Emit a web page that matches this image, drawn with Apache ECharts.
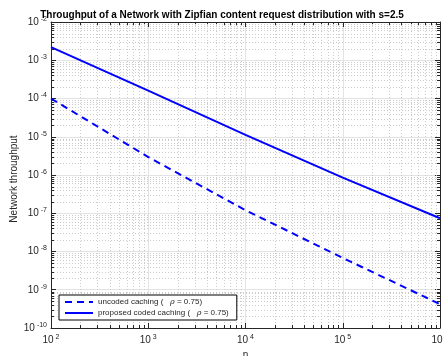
<!DOCTYPE html>
<html>
<head>
<meta charset="utf-8">
<script src="https://cdn.jsdelivr.net/npm/echarts@6/dist/echarts.min.js"></script>
<style>
  html, body { margin: 0; padding: 0; background: #fff; }
  #chart { width: 444px; height: 356px; }
</style>
</head>
<body>
<div id="chart"></div>
<script>
// values (log-log)
const nValues = [100, 1000, 10000, 100000, 1000000];
const uncodedThroughput = [1.0e-4, 2.95e-6, 1.2e-7, 6.8e-9, 4.2e-10];
const codedThroughput = [2.2e-3, 1.6e-4, 1.12e-5, 8.5e-7, 7.4e-8];

// minor grid positions (2..9 within each decade)
const minorMultiples = [2, 3, 4, 5, 6, 7, 8, 9];
const xDecades = [1e2, 1e3, 1e4, 1e5];
const yDecades = [1e-10, 1e-9, 1e-8, 1e-7, 1e-6, 1e-5, 1e-4, 1e-3];

const xMinor = [];
xDecades.forEach(d => minorMultiples.forEach(m => xMinor.push([d * m, 1e-6])));
const yMinor = [];
yDecades.forEach(d => minorMultiples.forEach(m => yMinor.push([1000, d * m])));

const axisColor = '#262626';
const fontFam = '"Liberation Sans", Arial, sans-serif';

const powLabel = v => {
    const e = Math.round(Math.log10(v));
    return '{b|10}{s|' + e + '}';
};
const labelRich = {
    b: { fontSize: 10, color: axisColor, fontFamily: fontFam },
    s: { fontSize: 7, color: axisColor, fontFamily: fontFam, verticalAlign: 'top', padding: [0, 0, 6, 2] }
};

const chart = echarts.init(document.getElementById('chart'));

function minorRender(isX) {
    return function (params, api) {
        const cs = params.coordSys;
        const p = api.coord([api.value(0), api.value(1)]);
        const dotted = { stroke: '#cccccc', lineWidth: 1, lineDash: [1, 2] };
        const tick = { stroke: axisColor, lineWidth: 1 };
        if (isX) {
            const x = Math.round(p[0]) + 0.5;
            return { type: 'group', children: [
                { type: 'line', shape: { x1: x, y1: cs.y, x2: x, y2: cs.y + cs.height }, style: dotted },
                { type: 'line', shape: { x1: x, y1: cs.y + cs.height, x2: x, y2: cs.y + cs.height - 3 }, style: tick },
                { type: 'line', shape: { x1: x, y1: cs.y, x2: x, y2: cs.y + 3 }, style: tick }
            ]};
        }
        const y = Math.round(p[1]) + 0.5;
        return { type: 'group', children: [
            { type: 'line', shape: { x1: cs.x, y1: y, x2: cs.x + cs.width, y2: y }, style: dotted },
            { type: 'line', shape: { x1: cs.x, y1: y, x2: cs.x + 3, y2: y }, style: tick },
            { type: 'line', shape: { x1: cs.x + cs.width, y1: y, x2: cs.x + cs.width - 3, y2: y }, style: tick }
        ]};
    };
}

const option = {
    backgroundColor: '#fff',
    animation: false,
    title: {
        text: 'Throughput of a Network with Zipfian content request distribution with s=2.5',
        left: 'center',
        top: 5,
        textStyle: { fontSize: 10, fontWeight: 'bold', color: '#000', fontFamily: fontFam }
    },
    legend: {
        orient: 'vertical',
        left: 59,
        top: 295,
        backgroundColor: '#fff',
        borderColor: '#000',
        borderWidth: 1,
        borderRadius: 0,
        padding: [3, 8, 3, 5],
        itemWidth: 28,
        itemHeight: 8,
        itemGap: 3,
        itemStyle: { color: 'transparent', borderColor: 'transparent', borderWidth: 0 },
        data: ['uncoded caching', 'proposed coded caching'],
        formatter: name => name + ' (   {i|ρ} = 0.75)',
        textStyle: {
            fontSize: 8, color: axisColor, fontFamily: fontFam,
            rich: { i: { fontSize: 8, fontStyle: 'italic', color: axisColor, fontFamily: '"DejaVu Serif", serif' } }
        }
    },
    grid: { left: 51, right: 4, top: 22, bottom: 28, containLabel: false, outerBoundsMode: 'none' },
    xAxis: [{
        type: 'log', logBase: 10, min: 1e2, max: 1e6,
        name: 'n', nameLocation: 'middle', nameGap: 19,
        nameTextStyle: { fontSize: 10, color: axisColor, fontFamily: fontFam },
        axisLine: { onZero: false, lineStyle: { color: axisColor, width: 1 } },
        axisTick: { inside: true, length: 5, lineStyle: { color: axisColor } },
        axisLabel: { margin: 6, formatter: powLabel, rich: labelRich, showMaxLabel: true },
        splitLine: { show: true, lineStyle: { color: '#e3e3e3', width: 1 } }
    }, {
        type: 'log', logBase: 10, min: 1e2, max: 1e6, position: 'top',
        axisLine: { onZero: false, lineStyle: { color: axisColor, width: 1 } },
        axisTick: { inside: true, length: 5, lineStyle: { color: axisColor } },
        axisLabel: { show: false },
        splitLine: { show: false }
    }],
    yAxis: [{
        type: 'log', logBase: 10, min: 1e-10, max: 1e-2,
        name: 'Network throughput', nameLocation: 'middle', nameGap: 32, nameMoveOverlap: false,
        nameTextStyle: { fontSize: 10, color: axisColor, fontFamily: fontFam, padding: [0, 0, 0, -8] },
        axisLine: { onZero: false, lineStyle: { color: axisColor, width: 1 } },
        axisTick: { inside: true, length: 5, lineStyle: { color: axisColor } },
        axisLabel: { margin: 4, formatter: powLabel, rich: labelRich },
        splitLine: { show: true, lineStyle: { color: '#e3e3e3', width: 1 } }
    }, {
        type: 'log', logBase: 10, min: 1e-10, max: 1e-2, position: 'right',
        axisLine: { onZero: false, lineStyle: { color: axisColor, width: 1 } },
        axisTick: { inside: true, length: 5, lineStyle: { color: axisColor } },
        axisLabel: { show: false },
        splitLine: { show: false }
    }],
    series: [
        {
            type: 'custom', xAxisIndex: 0, yAxisIndex: 0, z: 1, silent: true,
            renderItem: minorRender(true), data: xMinor, clip: false
        },
        {
            type: 'custom', xAxisIndex: 0, yAxisIndex: 0, z: 1, silent: true,
            renderItem: minorRender(false), data: yMinor, clip: false
        },
        {
            name: 'uncoded caching', type: 'line', xAxisIndex: 0, yAxisIndex: 0, z: 5,
            symbol: 'none', color: '#0000ff',
            lineStyle: { color: '#0000ff', width: 2, type: [7, 5] },
            data: nValues.map((n, i) => [n, uncodedThroughput[i]])
        },
        {
            name: 'proposed coded caching', type: 'line', xAxisIndex: 0, yAxisIndex: 0, z: 5,
            symbol: 'none', color: '#0000ff',
            lineStyle: { color: '#0000ff', width: 2, type: 'solid' },
            data: nValues.map((n, i) => [n, codedThroughput[i]])
        }
    ]
};

chart.setOption(option);
</script>
</body>
</html>
